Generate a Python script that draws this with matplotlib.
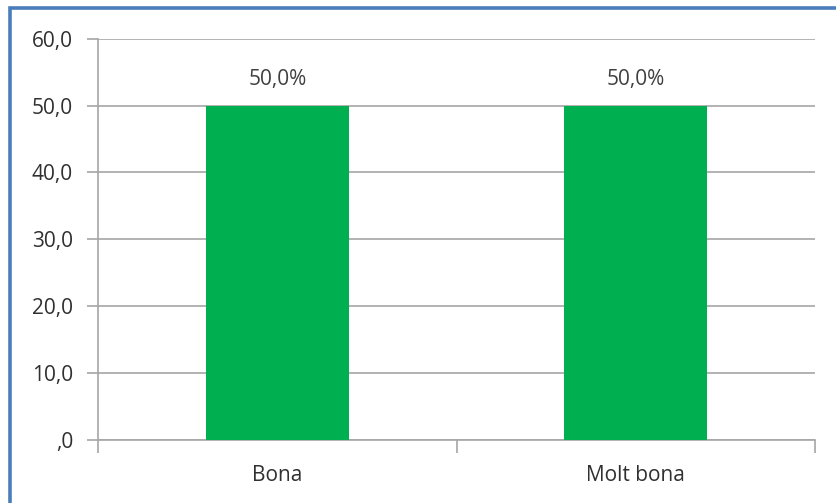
import matplotlib.pyplot as plt
from matplotlib.patches import Rectangle

categories = ["Bona", "Molt bona"]
values = [50.0, 50.0]
yticks = [0, 10, 20, 30, 40, 50, 60]
ytick_labels = [",0", "10,0", "20,0", "30,0", "40,0", "50,0", "60,0"]

plt.rcParams['font.family'] = ['Open Sans', 'DejaVu Sans']

fig = plt.figure(figsize=(8.36, 5.03), dpi=100)
W, H = 836, 503

# blue frame around the chart
fig.patches.append(Rectangle((9.5 / W, -0.1), 1.2, (H - 8) / H + 0.1,
                             transform=fig.transFigure, fill=False,
                             edgecolor="#4a7ebb", linewidth=2.6))

ax = fig.add_axes([98 / W, 63 / H, (815 - 98) / W, (440 - 38.7) / H])
x = range(len(categories))
ax.bar(x, values, width=0.4, color="#00b050", zorder=3)
for i, v in zip(x, values):
    ax.text(i, v + 2.4, f"{v:.1f}%".replace(".", ","), ha="center",
            va="bottom", fontsize=15, color="#404040")

ax.set_xlim(-0.5, 1.5)
ax.set_ylim(0, 60)
ax.set_yticks(yticks)
ax.set_yticklabels(ytick_labels)
ax.set_xticks(list(x))
ax.set_xticklabels(categories)
ax.set_xticks([-0.5, 0.5, 1.5], minor=True)
ax.grid(axis="y", color="#a6a6a6", linewidth=1.2, zorder=0)

for s in ["top", "right"]:
    ax.spines[s].set_visible(False)
for s in ["left", "bottom"]:
    ax.spines[s].set_color("#a6a6a6")
    ax.spines[s].set_linewidth(1.2)

ax.tick_params(axis="y", length=8, width=1.2, color="#a6a6a6",
               labelsize=15, labelcolor="#303030", pad=10)
ax.tick_params(axis="x", which="major", length=0, labelsize=15,
               labelcolor="#303030", pad=18)
ax.tick_params(axis="x", which="minor", length=9, width=1.2, color="#a6a6a6")

fig.savefig("out.png", dpi=100)
